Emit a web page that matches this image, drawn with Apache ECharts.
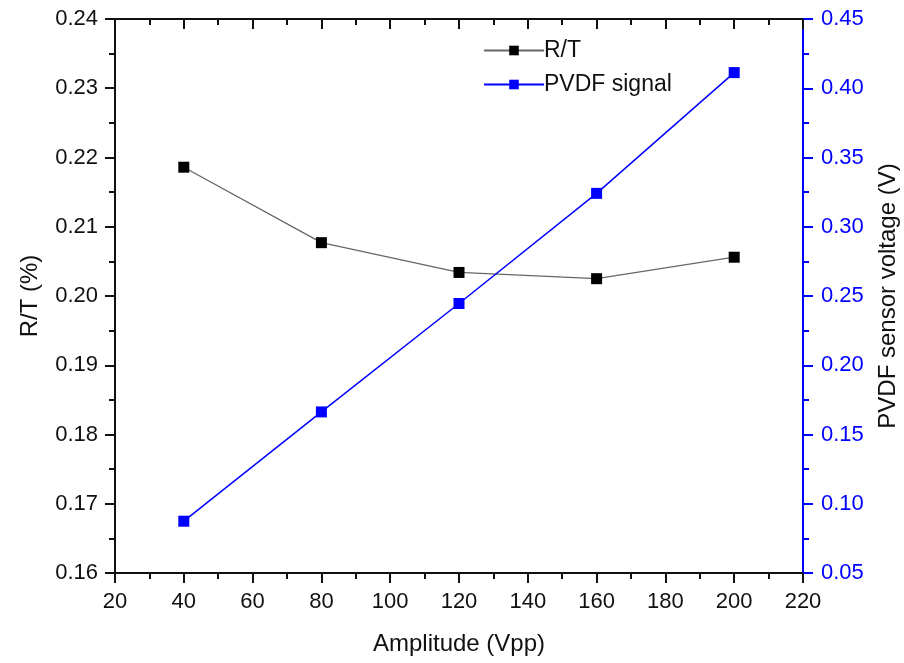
<!DOCTYPE html>
<html><head><meta charset="utf-8">
<script src="https://cdn.jsdelivr.net/npm/echarts@6/dist/echarts.min.js"></script>
<style>html,body{margin:0;padding:0;background:#fff;overflow:hidden}#c{width:904px;height:663px}</style>
</head><body><div id="c"></div>
<script>
const amplitude = [40, 80, 120, 160, 200];
const rtValues = [0.2186, 0.2077, 0.2034, 0.2025, 0.2056];
const pvdfValues = [0.0874, 0.1663, 0.2446, 0.3241, 0.4113];
const seriesNames = ['R/T', 'PVDF signal'];

const FONT = 'Liberation Sans, Arial, sans-serif';
const chart = echarts.init(document.getElementById('c'));
chart.setOption({
  animation: false,
  backgroundColor: '#fff',
  grid: {left: 115, right: 101, top: 19, bottom: 90, containLabel: false, outerBoundsMode: 'none'},
  legend: {
    orient: 'vertical', left: 478, top: 34, itemWidth: 60, itemHeight: 12, itemGap: 11,
    textStyle: {fontFamily: FONT, fontSize: 23, color: '#111', padding: [0,0,0,-5]},
    data: seriesNames
  },
  xAxis: [{
    type: 'value', min: 20, max: 220, interval: 20, position: 'bottom',
    name: 'Amplitude (Vpp)', nameLocation: 'middle', nameGap: 59,
    nameTextStyle: {fontFamily: FONT, fontSize: 24, color: '#111'},
    axisLine: {lineStyle: {color: '#111', width: 2}},
    axisTick: {inside: false, length: 10, lineStyle: {width: 2, color: '#111'}},
    minorTick: {show: true, splitNumber: 2, length: 6, lineStyle: {width: 2, color: '#111'}},
    axisLabel: {fontFamily: FONT, fontSize: 22, color: '#111', margin: 18},
    splitLine: {show: false}
  }, {
    type: 'value', min: 20, max: 220, interval: 20, position: 'top',
    axisLine: {show: true, lineStyle: {color: '#111', width: 2}},
    axisTick: {show: true, inside: true, length: 10, lineStyle: {width: 2, color: '#111'}},
    minorTick: {show: true, splitNumber: 2, length: 6, lineStyle: {width: 2, color: '#111'}},
    axisLabel: {show: false}, splitLine: {show: false}
  }],
  yAxis: [{
    type: 'value', min: 0.16, max: 0.24, interval: 0.01, position: 'left',
    name: 'R/T (%)', nameLocation: 'middle', nameGap: 73, nameRotate: 90,
    nameTextStyle: {fontFamily: FONT, fontSize: 24, color: '#111'},
    axisLine: {show: true, lineStyle: {color: '#111', width: 2}},
    axisTick: {show: true, inside: false, length: 10, lineStyle: {width: 2, color: '#111'}},
    minorTick: {show: true, splitNumber: 2, length: 6, lineStyle: {width: 2, color: '#111'}},
    axisLabel: {fontFamily: FONT, fontSize: 22, color: '#111', margin: 17, formatter: v => v.toFixed(2)},
    splitLine: {show: false}
  }, {
    type: 'value', min: 0.05, max: 0.45, interval: 0.05, position: 'right',
    name: 'PVDF sensor voltage (V)', nameLocation: 'middle', nameGap: 73, nameRotate: 90,
    nameTextStyle: {fontFamily: FONT, fontSize: 24, color: '#111'},
    axisLine: {show: true, lineStyle: {color: '#0000ff', width: 2}},
    axisTick: {show: true, inside: false, length: 10, lineStyle: {width: 2, color: '#0000ff'}},
    minorTick: {show: true, splitNumber: 2, length: 6, lineStyle: {width: 2, color: '#0000ff'}},
    axisLabel: {fontFamily: FONT, fontSize: 22, color: '#0000ff', margin: 18, formatter: v => v.toFixed(2)},
    splitLine: {show: false}
  }],
  series: [{
    name: seriesNames[0], type: 'line', xAxisIndex: 0, yAxisIndex: 0,
    data: amplitude.map((x, i) => [x, rtValues[i]]),
    symbol: 'rect', symbolSize: 11,
    itemStyle: {color: '#000'},
    lineStyle: {color: '#666', width: 1.3}
  }, {
    name: seriesNames[1], type: 'line', xAxisIndex: 0, yAxisIndex: 1,
    data: amplitude.map((x, i) => [x, pvdfValues[i]]),
    symbol: 'rect', symbolSize: 11,
    itemStyle: {color: '#0000ff'},
    lineStyle: {color: '#0000ff', width: 1.5}
  }]
});
</script></body></html>
